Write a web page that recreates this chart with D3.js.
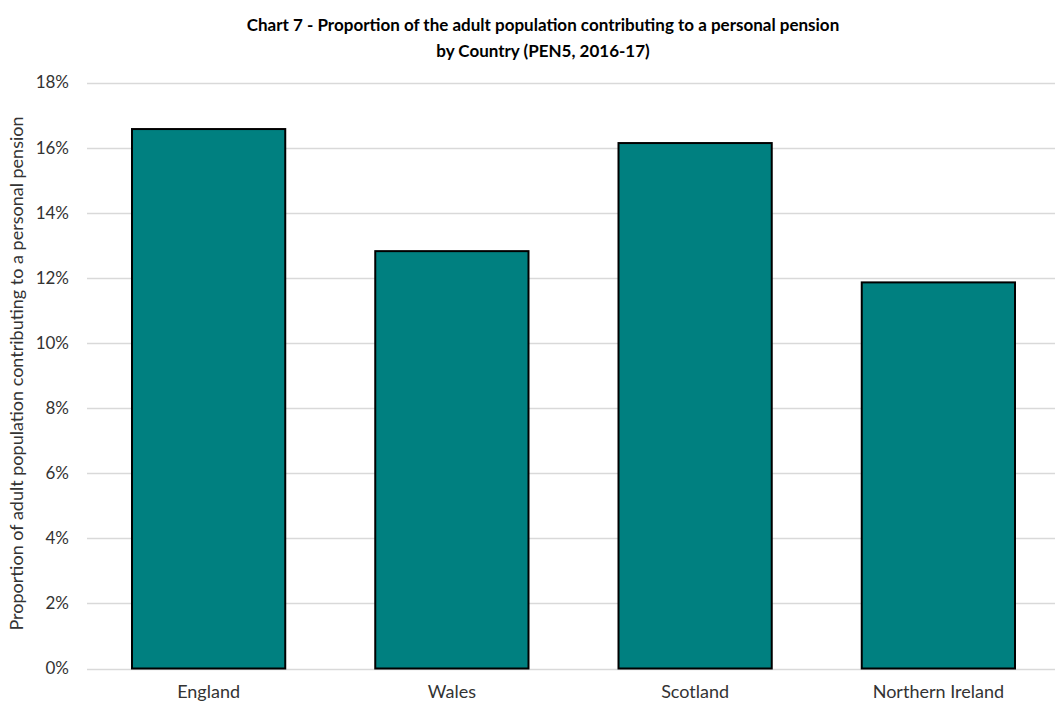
<!DOCTYPE html>
<html>
<head>
<meta charset="utf-8">
<script src="https://cdn.jsdelivr.net/npm/d3@7"></script>
<style>
  body { margin: 0; background: #fff; }
  svg text { font-family: Lato, "Open Sans", "Liberation Sans", sans-serif; }
</style>
</head>
<body>
<svg id="chart" width="1055" height="703"></svg>
<script>
// Share of adults contributing to a personal pension, by country (PEN5, 2016-17)
const countries = ["England", "Wales", "Scotland", "Northern Ireland"];
const shares = [16.57, 12.82, 16.14, 11.86];
const yTicks = [0, 2, 4, 6, 8, 10, 12, 14, 16, 18];
const titleLines = [
  "Chart 7 - Proportion of the adult population contributing to a personal pension",
  "by Country (PEN5, 2016-17)"
];
const yLabel = "Proportion of adult population contributing to a personal pension";

const svg = d3.select("#chart");
const margin = { left: 87, right: 1060, top: 82.5, bottom: 668.5 };
const textColor = "#333";

const x = d3.scaleBand()
  .domain(countries)
  .range([margin.left, margin.right])
  .paddingInner(0.37)
  .paddingOuter(0.185);

const y = d3.scaleLinear()
  .domain([0, 18])
  .range([margin.bottom, margin.top]);

// gridlines
svg.append("g")
  .selectAll("line")
  .data(yTicks)
  .join("line")
  .attr("x1", margin.left)
  .attr("x2", margin.right)
  .attr("y1", d => Math.round(y(d)) + 0.5)
  .attr("y2", d => Math.round(y(d)) + 0.5)
  .attr("stroke", "#d9d9d9")
  .attr("stroke-width", 1.3);

// y tick labels
svg.append("g")
  .selectAll("text")
  .data(yTicks)
  .join("text")
  .attr("x", 69)
  .attr("y", d => y(d))
  .attr("dy", "0.35em")
  .attr("text-anchor", "end")
  .attr("font-size", 17)
  .attr("fill", textColor)
  .text(d => d + "%");

// bars
svg.append("g")
  .selectAll("rect")
  .data(countries)
  .join("rect")
  .attr("x", d => x(d))
  .attr("width", x.bandwidth())
  .attr("y", (d, i) => y(shares[i]))
  .attr("height", (d, i) => y(0) - y(shares[i]))
  .attr("fill", "#008080")
  .attr("stroke", "#000")
  .attr("stroke-width", 2);

// category labels
svg.append("g")
  .selectAll("text")
  .data(countries)
  .join("text")
  .attr("x", d => x(d) + x.bandwidth() / 2)
  .attr("y", 698)
  .attr("text-anchor", "middle")
  .attr("font-size", 18)
  .attr("fill", textColor)
  .text(d => d);

// y axis title
svg.append("text")
  .attr("transform", `translate(23, ${(margin.top + margin.bottom) / 2 - 2}) rotate(-90)`)
  .attr("text-anchor", "middle")
  .attr("font-size", 18)
  .attr("fill", textColor)
  .text(yLabel);

// chart title
svg.append("g")
  .selectAll("text")
  .data(titleLines)
  .join("text")
  .attr("x", 543)
  .attr("y", (d, i) => 31 + i * 26)
  .attr("text-anchor", "middle")
  .attr("font-size", 17)
  .attr("font-weight", "bold")
  .attr("fill", "#000")
  .text(d => d);
</script>
</body>
</html>
